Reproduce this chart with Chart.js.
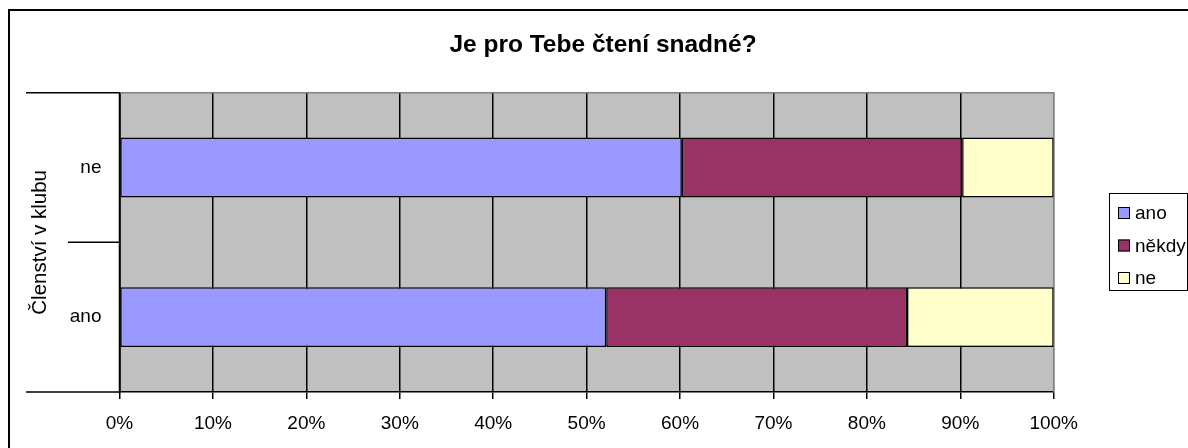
<!DOCTYPE html>
<html>
<head>
<meta charset="utf-8">
<script src="https://cdn.jsdelivr.net/npm/chart.js@4/dist/chart.umd.min.js"></script>
<style>
  html, body { margin: 0; padding: 0; background: #ffffff; }
  #wrap { width: 1188px; height: 448px; position: relative; }
</style>
</head>
<body>
<div id="wrap"><canvas id="c" width="1188" height="448"></canvas></div>
<script>
const chartTitle = 'Je pro Tebe čtení snadné?';
const axisTitle = 'Členství v klubu';
const categories = ['ne', 'ano'];
const seriesNames = ['ano', 'někdy', 'ne'];
const anoValues = [60.2, 52.1];
const nekdyValues = [30.0, 32.2];
const neValues = [9.8, 15.7];
const xTickLabels = ['0%', '10%', '20%', '30%', '40%', '50%', '60%', '70%', '80%', '90%', '100%'];
const seriesColors = ['#9999FF', '#993366', '#FFFFCC'];

const FONT = '"Liberation Sans", Arial, sans-serif';

const decorPlugin = {
  id: 'decor',
  beforeDraw(chart) {
    const {ctx, chartArea: a} = chart;
    ctx.save();
    ctx.fillStyle = '#C0C0C0';
    ctx.fillRect(a.left, a.top, a.right - a.left, a.bottom - a.top);
    ctx.restore();
  },
  beforeDatasetsDraw(chart) {
    const {ctx, chartArea: a} = chart;
    ctx.save();
    ctx.strokeStyle = '#808080';
    ctx.lineWidth = 1.5;
    ctx.beginPath();
    ctx.moveTo(a.left, a.top);
    ctx.lineTo(a.right, a.top);
    ctx.lineTo(a.right, a.bottom);
    ctx.stroke();
    ctx.restore();
  },
  afterDraw(chart) {
    const {ctx, chartArea: a} = chart;
    const ys = chart.scales.y;
    ctx.save();
    const p0 = ys.getPixelForValue(0);
    const p1 = ys.getPixelForValue(1);
    const step = p1 - p0;
    ctx.strokeStyle = '#000';
    ctx.lineWidth = 1.5;
    ctx.beginPath();
    ctx.moveTo(26, p0 - step / 2); ctx.lineTo(a.left, p0 - step / 2);
    ctx.moveTo(68, p0 + step / 2); ctx.lineTo(a.left, p0 + step / 2);
    ctx.moveTo(26, p1 + step / 2); ctx.lineTo(a.left, p1 + step / 2);
    ctx.stroke();
    ctx.beginPath();
    ctx.moveTo(a.left, a.top); ctx.lineTo(a.left, a.bottom);
    ctx.stroke();
    ctx.lineWidth = 2;
    ctx.beginPath();
    ctx.moveTo(9, 460); ctx.lineTo(9, 10); ctx.lineTo(1200, 10);
    ctx.stroke();
    const lx = 1109.5, ly = 193.5, lw = 78, lh = 97;
    ctx.lineWidth = 1;
    ctx.strokeRect(lx, ly, lw, lh);
    ctx.font = '19px ' + FONT;
    ctx.textBaseline = 'middle';
    ctx.textAlign = 'left';
    chart.data.datasets.forEach((ds, i) => {
      const cy = 213 + i * 32.5;
      ctx.fillStyle = ds.backgroundColor;
      ctx.fillRect(1118, cy - 6, 12, 12);
      ctx.strokeStyle = '#000';
      ctx.strokeRect(1118.5, cy - 5.5, 11, 11);
      ctx.fillStyle = '#000';
      ctx.fillText(ds.label, 1135, cy + 1);
    });
    ctx.restore();
  }
};

new Chart(document.getElementById('c'), {
  type: 'bar',
  data: {
    labels: categories,
    datasets: [
      { label: seriesNames[0], data: anoValues, backgroundColor: seriesColors[0] },
      { label: seriesNames[1], data: nekdyValues, backgroundColor: seriesColors[1] },
      { label: seriesNames[2], data: neValues, backgroundColor: seriesColors[2] }
    ].map(d => Object.assign(d, {
      borderColor: '#000', borderWidth: 1.5, borderSkipped: false,
      barPercentage: 0.4, categoryPercentage: 1.0
    }))
  },
  options: {
    indexAxis: 'y',
    responsive: false,
    animation: false,
    devicePixelRatio: 1,
    layout: { padding: { left: 18, right: 0, top: 0, bottom: 0 } },
    plugins: {
      legend: { display: false },
      tooltip: { enabled: false },
      title: {
        display: true,
        text: chartTitle,
        color: '#000',
        font: { family: FONT, size: 24.5, weight: 'bold' },
        padding: { top: 31, bottom: 32.3 }
      }
    },
    scales: {
      x: {
        stacked: true,
        min: 0, max: 100,
        ticks: {
          stepSize: 10,
          color: '#000',
          font: { family: FONT, size: 19 },
          padding: 13,
          maxRotation: 0,
          autoSkip: false,
          callback: (v, i) => xTickLabels[i]
        },
        grid: {
          color: ctx => (ctx.tick && ctx.tick.value === 100) ? '#808080' : '#000',
          lineWidth: 1.5,
          tickLength: 7,
          tickColor: '#000',
          drawOnChartArea: true
        },
        border: { display: true, color: '#000', width: 1.5 },
        afterFit: s => { s.height = 56; }
      },
      y: {
        stacked: true,
        ticks: {
          color: '#000',
          font: { family: FONT, size: 19 },
          padding: 18
        },
        grid: { display: false, drawTicks: false },
        border: { display: true, color: '#000', width: 1.5 },
        title: {
          display: true,
          text: axisTitle,
          color: '#000',
          font: { family: FONT, size: 20.5 },
          padding: { top: 10, bottom: 0 }
        },
        afterFit: s => { s.width = 101.5; }
      },
      yRight: {
        type: 'category',
        position: 'right',
        display: true,
        ticks: { display: false },
        grid: { display: false, drawTicks: false },
        border: { display: false },
        afterFit: s => { s.width = 134.3; }
      }
    }
  },
  plugins: [decorPlugin]
});
</script>
</body>
</html>
